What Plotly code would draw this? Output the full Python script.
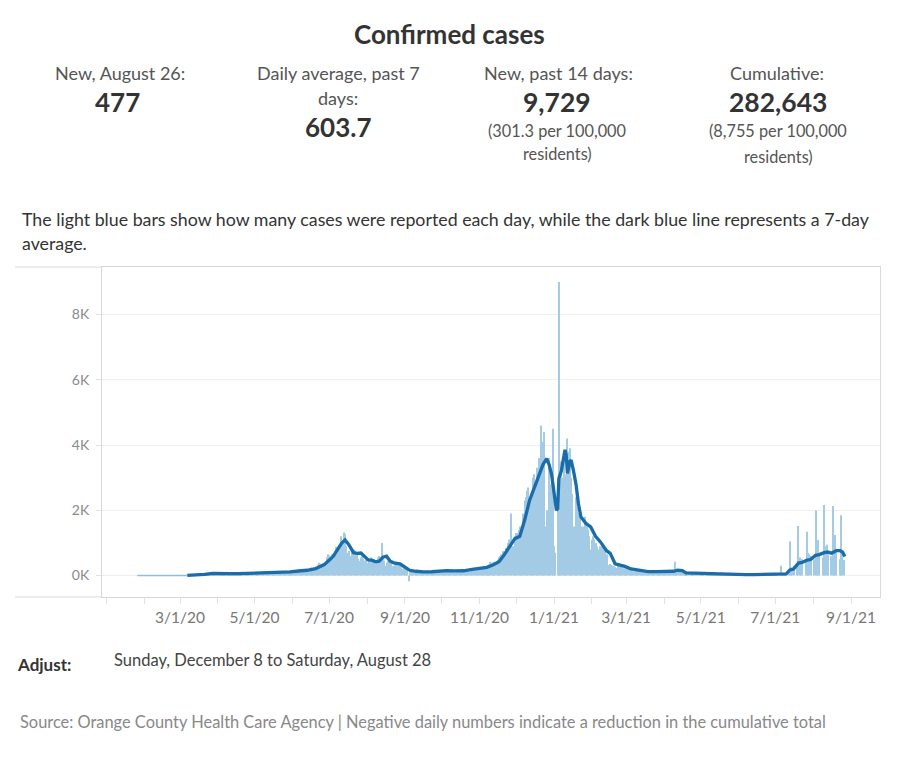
import plotly.graph_objects as go
import pandas as pd

# ---------------- data ----------------
FIRST_DAY = "2020-01-26"  # a Sunday; one row per week (Sun..Sat)
daily_cases = [
    0, 0, 1, 0, 0, 0, 0,            # Jan 26 2020
    0, 0, 0, 0, 0, 0, 0,            # Feb 2
    0, 0, 0, 0, 0, 0, 0,            # Feb 9
    0, 0, 0, 0, 0, 0, 0,            # Feb 16
    0, 0, 0, 0, 0, 0, 1,            # Feb 23
    0, 1, 1, 2, 0, 3, 2,            # Mar 1
    3, 4, 5, 6, 8, 10, 12,          # Mar 8
    15, 18, 22, 27, 30, 38, 45,     # Mar 15
    40, 55, 60, 72, 68, 80, 75,     # Mar 22
    62, 70, 85, 78, 66, 74, 59,     # Mar 29
    52, 58, 73, 68, 60, 64, 55,     # Apr 5
    48, 55, 70, 62, 58, 66, 50,     # Apr 12
    45, 60, 78, 70, 66, 72, 58,     # Apr 19
    55, 70, 85, 80, 74, 90, 62,     # Apr 26
    60, 85, 102, 95, 88, 96, 70,    # May 3
    66, 92, 104, 98, 90, 100, 74,   # May 10
    80, 110, 125, 118, 105, 120, 88,  # May 17
    85, 108, 130, 120, 112, 125, 90,  # May 24
    100, 140, 165, 150, 138, 155, 118,  # May 31
    120, 165, 190, 175, 160, 178, 140,  # Jun 7
    150, 210, 245, 230, 215, 240, 190,  # Jun 14
    230, 330, 390, 360, 345, 380, 300,  # Jun 21
    380, 560, 650, 620, 600, 650, 500,  # Jun 28
    480, 750, 880, 860, 800, 950, 1200,  # Jul 5
    1050, 1320, 1280, 900, 700, 750, 600,  # Jul 12
    600, 720, 800, 760, 650, 700, 520,  # Jul 19
    450, 550, 600, 520, 450, 480, 350,  # Jul 26
    380, 520, 560, 500, 450, 480, 360,  # Aug 2
    400, 550, 600, 560, 1000, 600, 450,  # Aug 9
    300, 400, 450, 420, 380, 370, 280,  # Aug 16
    280, 380, 400, 380, 340, 350, 260,  # Aug 23
    200, 260, 250, 220, 180, -180, 130,  # Aug 30
    110, 140, 150, 145, 130, 140, 100,  # Sep 6
    90, 115, 125, 120, 110, 118, 85,    # Sep 13
    95, 120, 135, 130, 120, 128, 92,    # Sep 20
    110, 140, 160, 150, 140, 155, 105,  # Sep 27
    115, 150, 170, 165, 150, 160, 118,  # Oct 4
    105, 140, 160, 155, 140, 150, 110,  # Oct 11
    115, 150, 175, 170, 155, 165, 125,  # Oct 18
    150, 200, 230, 220, 205, 215, 160,  # Oct 25
    170, 230, 270, 250, 235, 250, 190,  # Nov 1
    250, 340, 420, 400, 380, 420, 320,  # Nov 8
    350, 480, 560, 600, 650, 750, 650,  # Nov 15
    620, 850, 1000, 1100, 0, 1900, 900,  # Nov 22
    900, 1200, 1300, 1300, 1400, 1500, 1400,  # Nov 29
    1500, 1900, 2300, 2400, 2600, 2700, 2300,  # Dec 6
    2200, 2600, 3000, 3100, 2800, 3300, 2900,  # Dec 13
    3600, 4600, 4000, 4100, 4400, 1500, 2000,  # Dec 20
    1800, 3600, 2800, 3200, 4500, 900, 700,    # Dec 27
    0, 2600, 9000, 3300, 3500, 3000, 3600,     # Jan 3 2021
    2400, 3100, 4200, 3800, 3900, 3000, 2500,  # Jan 10
    1500, 1400, 2400, 2100, 1900, 1800, 1500,  # Jan 17
    1100, 1500, 1800, 1600, 1500, 1400, 1200,  # Jan 24
    800, 1100, 1200, 1100, 1000, 900, 800,     # Jan 31
    700, 900, 950, 850, 800, 750, 650,         # Feb 7
    300, 320, 350, 330, 300, 280, 250,         # Feb 14
    230, 300, 340, 310, 290, 270, 220,         # Feb 21
    170, 220, 250, 230, 210, 200, 160,         # Feb 28
    120, 170, 200, 190, 175, 170, 130,         # Mar 7
    100, 130, 150, 140, 135, 130, 95,          # Mar 14
    90, 125, 140, 135, 125, 120, 90,           # Mar 21
    95, 125, 145, 135, 130, 125, 95,           # Mar 28
    100, 135, 150, 140, 135, 130, 420,         # Apr 4
    100, 140, 155, 150, 160, 140, 110,         # Apr 11
    60, 85, 95, 90, 80, 75, 55,                # Apr 18
    50, 75, 85, 80, 70, 65, 50,                # Apr 25
    40, 60, 70, 65, 60, 55, 40,                # May 2
    35, 50, 60, 55, 50, 45, 35,                # May 9
    25, 35, 45, 40, 38, 35, 25,                # May 16
    20, 30, 38, 35, 32, 30, 20,                # May 23
    15, 20, 30, 30, 28, 26, 18,                # May 30
    15, 25, 30, 28, 26, 25, 18,                # Jun 6
    18, 28, 35, 32, 30, 28, 20,                # Jun 13
    20, 32, 40, 38, 35, 32, 25,                # Jun 20
    25, 40, 50, 48, 45, 42, 0,                 # Jun 27
    0, 0, 300, 60, 50, 60, 0,                  # Jul 4
    0, 100, 1050, 200, 250, 300, 0,            # Jul 11
    0, 300, 1520, 550, 500, 500, 0,            # Jul 18
    0, 450, 1340, 700, 650, 600, 0,            # Jul 25
    0, 500, 2000, 750, 1090, 700, 0,           # Aug 1
    0, 550, 2160, 900, 940, 650, 0,            # Aug 8
    0, 600, 2130, 883, 1240, 700, 0,           # Aug 15
    0, 500, 1850, 700, 477,                    # Aug 22 .. Aug 26
]

# 7-day average
avg_early_dates = ["2020-01-26", "2020-03-07"]
avg_early_values = [0, 3]

avg_dates = [
    "2020-03-07", "2020-03-14", "2020-03-21", "2020-03-28", "2020-04-04", "2020-04-11",
    "2020-04-18", "2020-04-25", "2020-05-02", "2020-05-09", "2020-05-16", "2020-05-23",
    "2020-05-30", "2020-06-06", "2020-06-13", "2020-06-20", "2020-06-27", "2020-07-01",
    "2020-07-04", "2020-07-08", "2020-07-11", "2020-07-14", "2020-07-17", "2020-07-21",
    "2020-07-24", "2020-07-27", "2020-07-30", "2020-08-02", "2020-08-05", "2020-08-08",
    "2020-08-11", "2020-08-14", "2020-08-17", "2020-08-20", "2020-08-23", "2020-08-28",
    "2020-09-01", "2020-09-05", "2020-09-10", "2020-09-16", "2020-09-23", "2020-09-30",
    "2020-10-05", "2020-10-12", "2020-10-19", "2020-10-26", "2020-11-01", "2020-11-07",
    "2020-11-12", "2020-11-17", "2020-11-21", "2020-11-25", "2020-11-30", "2020-12-04",
    "2020-12-08", "2020-12-12", "2020-12-16", "2020-12-19", "2020-12-23", "2020-12-26",
    "2020-12-28", "2020-12-30", "2021-01-01", "2021-01-03", "2021-01-04", "2021-01-05",
    "2021-01-07", "2021-01-10", "2021-01-11", "2021-01-12", "2021-01-14", "2021-01-15",
    "2021-01-17", "2021-01-19", "2021-01-21", "2021-01-23", "2021-01-27", "2021-01-31",
    "2021-02-04", "2021-02-08", "2021-02-13", "2021-02-16", "2021-02-20", "2021-02-24",
    "2021-02-28", "2021-03-05", "2021-03-12", "2021-03-19", "2021-03-26", "2021-04-02",
    "2021-04-09", "2021-04-12", "2021-04-16", "2021-04-19", "2021-04-26", "2021-05-03",
    "2021-05-10", "2021-05-17", "2021-05-24", "2021-05-31", "2021-06-07", "2021-06-14",
    "2021-06-21", "2021-06-28", "2021-07-05", "2021-07-10", "2021-07-13", "2021-07-16",
    "2021-07-20", "2021-07-23", "2021-07-27", "2021-07-30", "2021-08-03", "2021-08-06",
    "2021-08-10", "2021-08-13", "2021-08-16", "2021-08-17", "2021-08-20", "2021-08-23",
    "2021-08-25", "2021-08-27",
]
avg_values = [
    3, 8, 35, 62, 70, 60,
    58, 64, 76, 85, 88, 106,
    110, 138, 161, 212, 330, 470,
    570, 800, 980, 1090, 950, 700,
    680, 690, 580, 480, 470, 420,
    440, 560, 590, 440, 390, 360,
    260, 160, 130, 110, 115, 135,
    150, 140, 145, 190, 220, 250,
    320, 420, 620, 850, 1130, 1200,
    1700, 2300, 2700, 3030, 3400, 3580,
    3400, 3100, 2500, 2000, 2050, 2980,
    3200, 3850, 3700, 3130, 3500, 3540,
    3200, 2800, 2200, 1800, 1600, 1490,
    1200, 1030, 760, 680, 360, 320,
    280, 200, 150, 120, 120, 125,
    130, 160, 150, 80, 70, 60,
    50, 40, 30, 25, 24, 28,
    32, 38, 30, 50, 170, 200,
    380, 400, 470, 490, 620, 640,
    700, 720, 680, 700, 760, 760,
    720, 580,
]

y_tick_values = [0, 2000, 4000, 6000, 8000]
y_tick_labels = ["0K", "2K", "4K", "6K", "8K"]

x_tick_dates = pd.date_range("2020-01-01", "2021-09-01", freq="MS")
x_tick_labels = ["" if (d.month % 2 == 0 or (d.year == 2020 and d.month == 1))
                 else f"{d.month}/{d.day}/{d.strftime('%y')}" for d in x_tick_dates]

days = pd.date_range(FIRST_DAY, periods=len(daily_cases), freq="D")

# ---------------- figure ----------------
W, H = 897, 768
FONT = "Lato"
BAR_COLOR = "#a3cbe6"
LINE_COLOR = "#1a6da9"
FRAME = "#d9d9d9"


def px(x):
    return x / W


def py(y):
    return 1 - y / H


fig = go.Figure()
fig.add_trace(go.Bar(x=days, y=daily_cases, marker=dict(color=BAR_COLOR, line=dict(width=0)),
                     hoverinfo="x+y"))
fig.add_trace(go.Scatter(x=avg_early_dates, y=avg_early_values, mode="lines",
                         line=dict(color="#8fbfe0", width=1.5)))
fig.add_trace(go.Scatter(x=avg_dates, y=avg_values, mode="lines",
                         line=dict(color=LINE_COLOR, width=3.3, shape="linear")))

fig.update_layout(
    width=W, height=H,
    margin=dict(l=0, r=0, t=0, b=0),
    paper_bgcolor="white", plot_bgcolor="white",
    showlegend=False, bargap=0.1,
    font=dict(family=FONT, color="#333"),
    xaxis=dict(
        domain=[px(102), px(880)],
        type="date",
        range=["2019-12-28 04:19", "2021-09-24 17:31"],
        tickmode="array", tickvals=list(x_tick_dates), ticktext=x_tick_labels,
        ticks="outside", ticklen=6, tickcolor="#e2e2e2", tickwidth=1,
        tickfont=dict(family=FONT, size=15.5, color="#777"),
        showgrid=False, zeroline=False,
        showline=True, linecolor=FRAME, linewidth=1, mirror=True,
    ),
    yaxis=dict(
        domain=[py(597), py(267)],
        range=[-659, 9456],
        tickmode="array", tickvals=y_tick_values, ticktext=y_tick_labels,
        ticks="outside", ticklen=5, tickcolor="#e2e2e2",
        ticklabelstandoff=4,
        tickfont=dict(family=FONT, size=14, color="#8a8a8a"),
        showgrid=True, gridcolor="#f0f0f0", gridwidth=1, zeroline=False,
        showline=True, linecolor=FRAME, linewidth=1, mirror=True,
    ),
)

# dotted zero line
fig.add_shape(type="line", xref="paper", yref="y", x0=px(102), x1=px(880), y0=0, y1=0,
              line=dict(color="#bdbdbd", width=1, dash="dot"), layer="below")
# left pane borders
for yy in (267, 597):
    fig.add_shape(type="line", xref="paper", yref="paper", x0=px(15), x1=px(102),
                  y0=py(yy), y1=py(yy), line=dict(color=FRAME, width=1))


def text(x, y, s, size, color="#333", anchor="center", bold=False):
    fig.add_annotation(xref="paper", yref="paper", x=px(x), y=py(y), text=(f"<b>{s}</b>" if bold else s),
                       showarrow=False, xanchor=anchor, yanchor="middle",
                       font=dict(family=FONT, size=size, color=color))


text(449, 34, "Confirmed cases", 26, "#333", bold=True)

text(120, 73, "New, August 26:", 18, "#555")
text(118, 102, "477", 26, "#333", bold=True)

text(338, 73, "Daily average, past 7", 18, "#555")
text(338, 98, "days:", 18, "#555")
text(338, 127, "603.7", 26, "#333", bold=True)

text(558, 73, "New, past 14 days:", 18, "#555")
text(557, 102, "9,729", 26.5, "#333", bold=True)
text(557, 131, "(301.3 per 100,000", 16.3, "#555")
text(557, 153, "residents)", 16.3, "#555")

text(777, 73, "Cumulative:", 18, "#555")
text(778, 102, "282,643", 26.5, "#333", bold=True)
text(778, 131, "(8,755 per 100,000", 16.3, "#555")
text(778, 156, "residents)", 16.3, "#555")

text(20, 219, "The light blue bars show how many cases were reported each day, while the dark blue line represents a 7-day",
     17.8, "#333", anchor="left")
text(20, 243, "average.", 17.8, "#333", anchor="left")

text(15, 664, "Adjust:", 17, "#333", anchor="left", bold=True)
text(112, 660, "Sunday, December 8 to Saturday, August 28", 16.5, "#444", anchor="left")

text(18, 721, "Source: Orange County Health Care Agency | Negative daily numbers indicate a reduction in the cumulative total",
     16.4, "#888", anchor="left")

fig.write_html("out.html", config={"displayModeBar": False},
               post_script="document.body.style.margin='0px';")
